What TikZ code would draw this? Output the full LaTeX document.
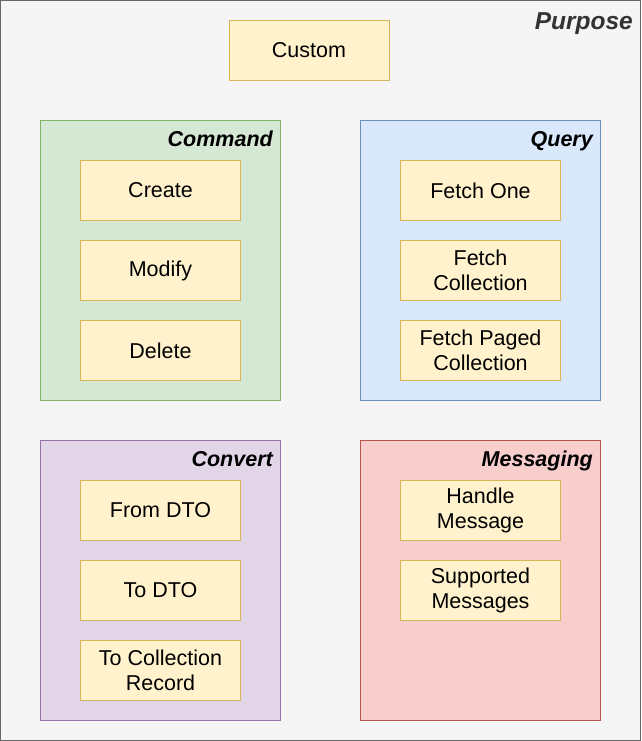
\documentclass[tikz,border=0pt]{standalone}
\usepackage{fontspec}
\setmainfont{Liberation Sans}
\usepackage{xcolor}
\usetikzlibrary{positioning}
\definecolor{purposefill}{HTML}{F5F5F5}
\definecolor{purposeline}{HTML}{666666}
\definecolor{purposetext}{HTML}{333333}
\definecolor{itemfill}{HTML}{FFF2CC}
\definecolor{itemline}{HTML}{D6B656}
\definecolor{cmdfill}{HTML}{D5E8D4}
\definecolor{cmdline}{HTML}{82B366}
\definecolor{qryfill}{HTML}{DAE8FC}
\definecolor{qryline}{HTML}{6C8EBF}
\definecolor{cnvfill}{HTML}{E1D5E7}
\definecolor{cnvline}{HTML}{9673A6}
\definecolor{msgfill}{HTML}{F8CECC}
\definecolor{msgline}{HTML}{B85450}
\tikzset{
  % 条目盒子
  itembox/.style={
    draw=itemline,
    fill=itemfill,
    line width=1pt,
    minimum width=160pt,
    minimum height=60pt,
    inner sep=0pt,
    align=center,
    font=\fontsize{21.5}{25}\selectfont
  },
  % 分组盒子
  groupbox/.style={
    line width=1pt,
    minimum width=240pt,
    minimum height=280pt,
    inner sep=0pt
  },
  % 分组标题
  grouptitle/.style={
    anchor=base east,
    inner sep=0pt,
    font=\fontsize{21.5}{25}\selectfont\bfseries\itshape
  },
}

\begin{document}
\begin{tikzpicture}[x=1pt, y=-1pt]
        \useasboundingbox (0,0) rectangle (641,741);

        % 外框
        \node[draw=purposeline, fill=purposefill, line width=1pt, inner sep=0pt,
              minimum width=640pt, minimum height=740pt] (purpose) at (320.5,370.5) {};
        \node[anchor=base east, inner sep=0pt, text=purposetext, font=\fontsize{24.5}{28}\selectfont\bfseries\itshape] (purposetitle) at (633,30) {Purpose};
        \node[itembox] (custom) at (309,50.5) {Custom};

        % Command
        \node[groupbox, draw=cmdline, fill=cmdfill] (command) at (160.5,260.5) {};
        \node[grouptitle] (commandtitle) at (273,146.5) {Command};
        \node[itembox] (create) at (160.5,190.5) {Create};
        \node[itembox, below=19pt of create] (modify) {Modify};
        \node[itembox, below=19pt of modify] (delete) {Delete};

        % Query
        \node[groupbox, draw=qryline, fill=qryfill] (query) at (480.5,260.5) {};
        \node[grouptitle] (querytitle) at (593,146.5) {Query};
        \node[itembox] (fetchone) at (480.5,190.5) {Fetch One};
        \node[itembox, below=19pt of fetchone] (fetchcoll) {Fetch\\Collection};
        \node[itembox, below=19pt of fetchcoll] (fetchpaged) {Fetch Paged\\Collection};

        % Convert
        \node[groupbox, draw=cnvline, fill=cnvfill] (convert) at (160.5,580.5) {};
        \node[grouptitle] (converttitle) at (273,466.5) {Convert};
        \node[itembox] (fromdto) at (160.5,510.5) {From DTO};
        \node[itembox, below=19pt of fromdto] (todto) {To DTO};
        \node[itembox, below=19pt of todto] (torecord) {To Collection\\Record};

        % Messaging
        \node[groupbox, draw=msgline, fill=msgfill] (messaging) at (480.5,580.5) {};
        \node[grouptitle] (messagingtitle) at (593,466.5) {Messaging};
        \node[itembox] (handlemsg) at (480.5,510.5) {Handle\\Message};
        \node[itembox, below=19pt of handlemsg] (supportedmsg) {Supported\\Messages};
    \end{tikzpicture}
\end{document}
